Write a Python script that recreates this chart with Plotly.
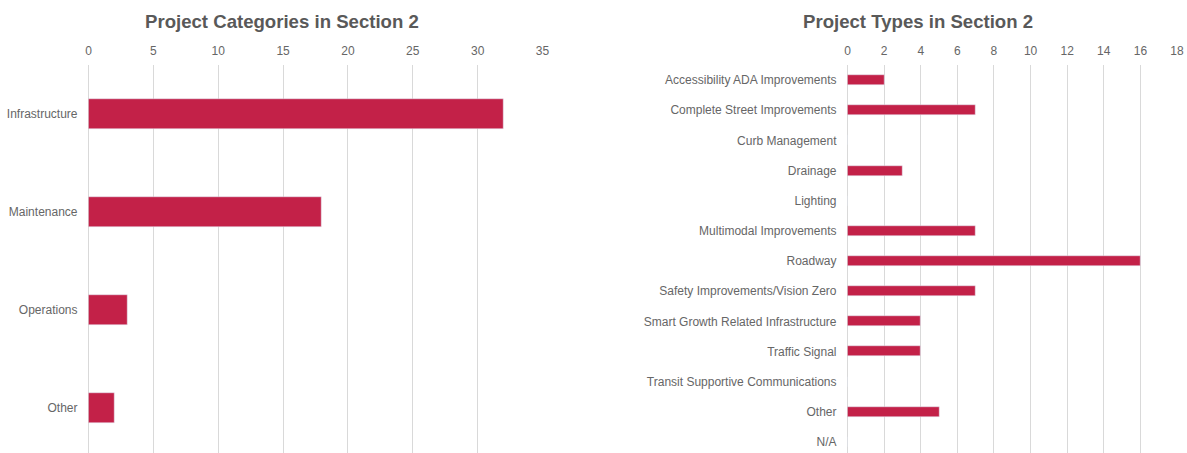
import plotly.graph_objects as go

cat_labels = ["Infrastructure", "Maintenance", "Operations", "Other"]
cat_values = [32, 18, 3, 2]

type_labels = [
    "Accessibility ADA Improvements", "Complete Street Improvements", "Curb Management",
    "Drainage", "Lighting", "Multimodal Improvements", "Roadway",
    "Safety Improvements/Vision Zero", "Smart Growth Related Infrastructure",
    "Traffic Signal", "Transit Supportive Communications", "Other", "N/A",
]
type_values = [2, 7, 0, 3, 0, 7, 16, 7, 4, 4, 0, 5, 0]

W, H = 1187, 453
TOP = 65
BAR = "#C32148"
GRID = "#d9d9d9"
TXT = "#595959"
FONT = "Liberation Sans, Arial, sans-serif"

fig = go.Figure()
fig.add_trace(go.Bar(x=cat_values, y=cat_labels, orientation="h", marker_color=BAR,
                     width=0.31, xaxis="x", yaxis="y", showlegend=False))
fig.add_trace(go.Bar(x=type_values, y=type_labels, orientation="h", marker_color=BAR,
                     width=0.33, xaxis="x2", yaxis="y2", showlegend=False))

axis_common = dict(side="top", showgrid=True, gridcolor=GRID, gridwidth=1,
                   zeroline=True, zerolinecolor=GRID, zerolinewidth=1, automargin=False,
                   showline=False, ticks="", tickfont=dict(size=12, color="#666666", family=FONT),
                   ticklabelstandoff=7)
yaxis_common = dict(domain=[0, 1], showgrid=False, zeroline=False, showline=False,
                    automargin=False, ticks="", ticklabelstandoff=10,
                    tickfont=dict(size=12, color="#666666", family=FONT))

fig.update_layout(
    width=W, height=H,
    margin=dict(l=0, r=0, t=TOP, b=0, autoexpand=False),
    paper_bgcolor="white", plot_bgcolor="white",
    font=dict(family=FONT, color=TXT),
    bargap=0,
    xaxis=dict(domain=[88.5 / W, 542.5 / W], range=[0, 35], dtick=5, anchor="y", **axis_common),
    yaxis=dict(anchor="x", categoryorder="array", categoryarray=cat_labels,
               range=[3.5 - 4 / 98, -0.5], **yaxis_common),
    xaxis2=dict(domain=[847.5 / W, 1177 / W], range=[0, 18], dtick=2, anchor="y2", **axis_common),
    yaxis2=dict(anchor="x2", categoryorder="array", categoryarray=type_labels,
                range=[12.5 - 4 / 30.25, -0.5], **yaxis_common),
    annotations=[
        dict(text="<b>Project Categories in Section 2</b>", x=281.5 / W, xanchor="center",
             y=1 + (TOP - 22) / (H - TOP), xref="paper", yref="paper", yanchor="middle",
             showarrow=False, font=dict(size=18.6, color=TXT, family=FONT)),
        dict(text="<b>Project Types in Section 2</b>", x=917.5 / W, xanchor="center",
             y=1 + (TOP - 22) / (H - TOP), xref="paper", yref="paper", yanchor="middle",
             showarrow=False, font=dict(size=18.6, color=TXT, family=FONT)),
    ],
)

fig.write_html("out.html", config={"displayModeBar": False},
               post_script="document.body.style.margin='0';document.body.style.overflow='hidden';")
